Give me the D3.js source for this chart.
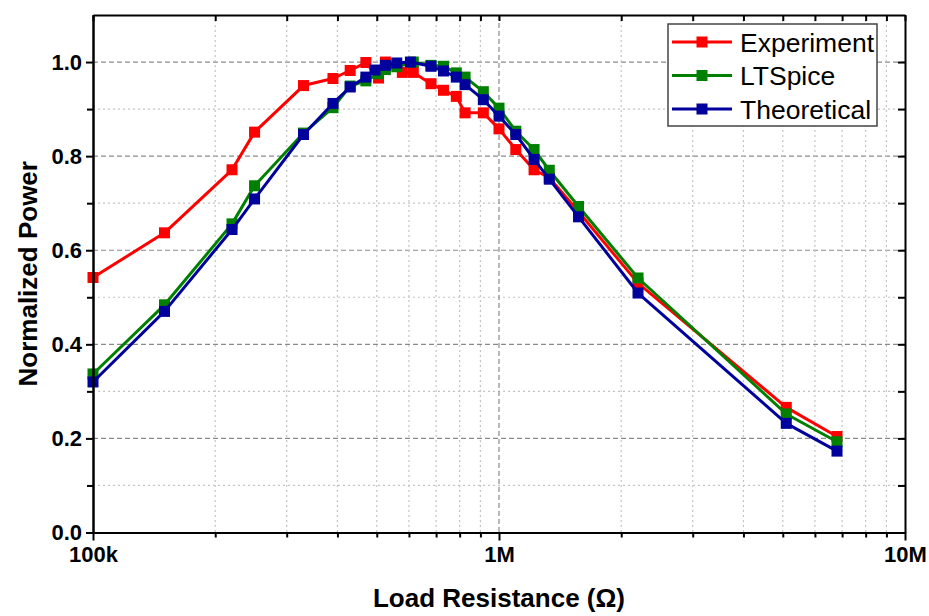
<!DOCTYPE html>
<meta charset="utf-8">
<head>
  <title>Normalized Power vs Load Resistance</title>
  <script src="https://d3js.org/d3.v7.min.js"></script>
  <style>
    body { margin: 0; background: #fff; }
    svg text { font-family: "Liberation Sans", Arial, sans-serif; fill: #000; }
    .axis path, .axis line { stroke: #000; stroke-width: 2; }
    .axis text { font-size: 22px; font-weight: bold; }
    .grid-major { stroke: #8a8a8a; stroke-width: 1.2; stroke-dasharray: 5,3; }
    .grid-minor { stroke: #c4c4c4; stroke-width: 1.2; stroke-dasharray: 2,3; }
  </style>
</head>
<body>
<svg width="929" height="616"></svg>
<script>
// ---- data ----
var expR = [100e3,150e3,220e3,250e3,330e3,390e3,430e3,470e3,505e3,525e3,578e3,615e3,680e3,730e3,785e3,825e3,915e3,1.0e6,1.1e6,1.22e6,1.33e6,1.57e6,2.2e6,5.1e6,6.8e6];
var expP = [0.542,0.637,0.771,0.851,0.950,0.965,0.982,0.999,0.966,1.0,0.978,0.978,0.954,0.940,0.927,0.892,0.892,0.858,0.814,0.771,0.754,0.682,0.530,0.266,0.204];

var ltsR = [100e3,150e3,220e3,250e3,330e3,390e3,430e3,470e3,505e3,525e3,560e3,615e3,680e3,730e3,785e3,825e3,915e3,1.0e6,1.1e6,1.22e6,1.33e6,1.57e6,2.2e6,5.1e6,6.8e6];
var ltsP = [0.337,0.484,0.656,0.737,0.849,0.903,0.949,0.960,0.975,0.984,0.990,1.0,0.993,0.991,0.977,0.968,0.937,0.902,0.853,0.814,0.770,0.693,0.541,0.252,0.193];

var thR = [100e3,150e3,220e3,250e3,330e3,390e3,430e3,470e3,495e3,525e3,560e3,605e3,680e3,730e3,785e3,825e3,915e3,1.0e6,1.1e6,1.22e6,1.33e6,1.57e6,2.2e6,5.1e6,6.8e6];
var thP = [0.320,0.470,0.644,0.709,0.846,0.912,0.947,0.968,0.983,0.993,0.998,1.0,0.991,0.981,0.968,0.952,0.920,0.885,0.846,0.793,0.751,0.671,0.509,0.232,0.173];

var seriesNames = ["Experiment", "LTSpice", "Theoretical"];
var seriesColors = ["#ff0000", "#008000", "#00009c"];

var yMajor = [0, 0.2, 0.4, 0.6, 0.8, 1.0];
var yMinor = [0.1, 0.3, 0.5, 0.7, 0.9];
var xMajor = [1e5, 1e6, 1e7];
var xLabels = ["100k", "1M", "10M"];

(function() {
// ---- layout ----
var pL = 93, pR = 905, pT = 15, pB = 532.5;

var x = d3.scaleLog().domain([1e5, 1e7]).range([pL, pR]);
var y = d3.scaleLinear().domain([0, 1.1]).range([pB, pT]);

var xMinor = [];
[1e5, 1e6].forEach(function(dec) {
  for (var k = 2; k <= 9; k++) xMinor.push(dec * k);
});

var svg = d3.select("svg");

// grid
var grid = svg.append("g");
grid.selectAll(".gy1").data(yMinor).enter().append("line")
    .attr("class", "grid-minor")
    .attr("x1", pL).attr("x2", pR)
    .attr("y1", function(d) { return y(d); }).attr("y2", function(d) { return y(d); });
grid.selectAll(".gy2").data(yMajor.filter(function(d) { return d > 0; })).enter().append("line")
    .attr("class", "grid-major")
    .attr("x1", pL).attr("x2", pR)
    .attr("y1", function(d) { return y(d); }).attr("y2", function(d) { return y(d); });
grid.selectAll(".gx1").data(xMinor).enter().append("line")
    .attr("class", "grid-minor")
    .attr("y1", pT).attr("y2", pB)
    .attr("x1", function(d) { return x(d); }).attr("x2", function(d) { return x(d); });
grid.append("line")
    .attr("class", "grid-major")
    .attr("y1", pT).attr("y2", pB)
    .attr("x1", x(1e6)).attr("x2", x(1e6));

// series
var series = [
  {name: seriesNames[0], color: seriesColors[0], r: expR, p: expP},
  {name: seriesNames[1], color: seriesColors[1], r: ltsR, p: ltsP},
  {name: seriesNames[2], color: seriesColors[2], r: thR, p: thP}
];

var line = d3.line()
    .x(function(d) { return x(d[0]); })
    .y(function(d) { return y(d[1]); });

var ms = 11;
series.forEach(function(s) {
  var pts = s.r.map(function(r, i) { return [r, s.p[i]]; });
  var g = svg.append("g");
  g.append("path")
      .datum(pts)
      .attr("d", line)
      .attr("fill", "none")
      .attr("stroke", s.color)
      .attr("stroke-width", 3)
      .attr("stroke-linejoin", "round");
  g.selectAll("rect").data(pts).enter().append("rect")
      .attr("x", function(d) { return x(d[0]) - ms / 2; })
      .attr("y", function(d) { return y(d[1]) - ms / 2; })
      .attr("width", ms).attr("height", ms)
      .attr("fill", s.color);
});

// axes
var yAxis = d3.axisLeft(y).tickValues(yMajor).tickFormat(d3.format(".1f")).tickSize(7).tickSizeOuter(0).tickPadding(4);
var yAxisMinor = d3.axisLeft(y).tickValues(yMinor).tickFormat("").tickSize(6).tickSizeOuter(0);
var yAxisR = d3.axisRight(y).tickValues(yMajor.concat(yMinor)).tickFormat("").tickSize(-7).tickSizeOuter(0);

var xAxis = d3.axisBottom(x).tickValues(xMajor)
    .tickFormat(function(d, i) { return xLabels[i]; }).tickSize(8).tickSizeOuter(0).tickPadding(6);
var xAxisMinor = d3.axisBottom(x).tickValues(xMinor).tickFormat("").tickSize(5).tickSizeOuter(0);
var xAxisT = d3.axisTop(x).tickValues(xMinor.concat(xMajor)).tickFormat("").tickSize(-6).tickSizeOuter(0);

svg.append("g").attr("class", "axis").attr("transform", "translate(" + pL + ",0)").call(yAxis);
svg.append("g").attr("class", "axis").attr("transform", "translate(" + pL + ",0)").call(yAxisMinor);
svg.append("g").attr("class", "axis").attr("transform", "translate(" + pR + ",0)").call(yAxisR);
svg.append("g").attr("class", "axis").attr("transform", "translate(0," + pB + ")").call(xAxis);
svg.append("g").attr("class", "axis").attr("transform", "translate(0," + pB + ")").call(xAxisMinor);
svg.append("g").attr("class", "axis").attr("transform", "translate(0," + pT + ")").call(xAxisT);

// axis titles
svg.append("text")
    .attr("x", (pL + pR) / 2).attr("y", 607)
    .attr("text-anchor", "middle")
    .style("font-size", "26px").style("font-weight", "bold")
    .text("Load Resistance (Ω)");

svg.append("text")
    .attr("transform", "translate(37," + ((pT + pB) / 2) + ") rotate(-90)")
    .attr("text-anchor", "middle")
    .style("font-size", "26px").style("font-weight", "bold")
    .text("Normalized Power");

// legend
var lg = svg.append("g").attr("transform", "translate(668,24)");
lg.append("rect")
    .attr("width", 209).attr("height", 102)
    .attr("fill", "#fff").attr("stroke", "#444").attr("stroke-width", 1.5);
series.forEach(function(s, i) {
  var cy = 18 + i * 33.5;
  lg.append("line")
      .attr("x1", 4).attr("x2", 64).attr("y1", cy).attr("y2", cy)
      .attr("stroke", s.color).attr("stroke-width", 3);
  lg.append("rect")
      .attr("x", 34 - ms / 2).attr("y", cy - ms / 2)
      .attr("width", ms).attr("height", ms).attr("fill", s.color);
  lg.append("text")
      .attr("x", 72).attr("y", cy + 9.5)
      .style("font-size", "26.5px")
      .text(s.name);
});
})();
</script>
</body>
